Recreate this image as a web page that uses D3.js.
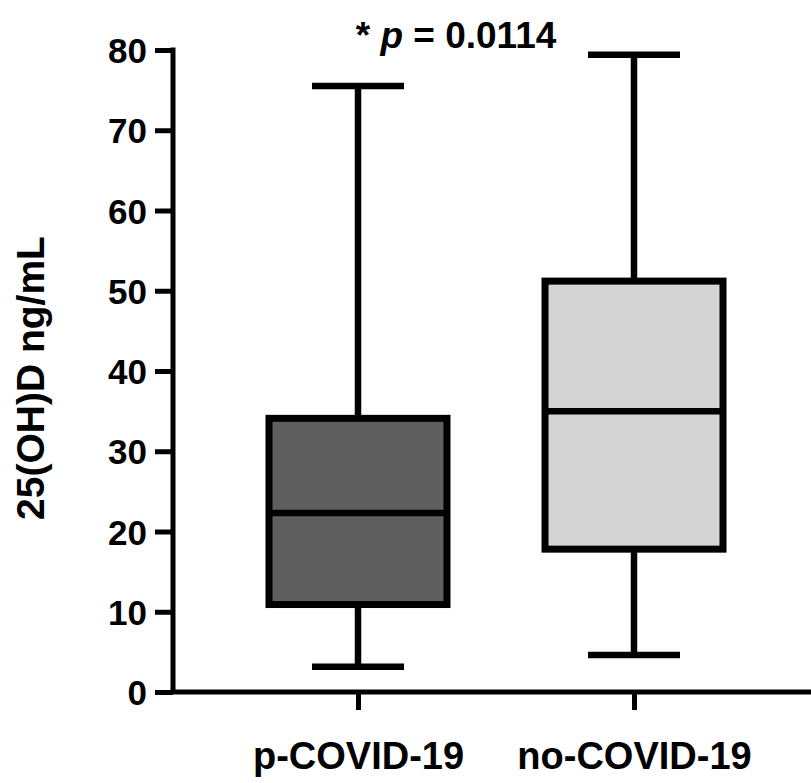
<!DOCTYPE html>
<html>
<head>
<meta charset="utf-8">
<script src="https://cdn.jsdelivr.net/npm/d3@7"></script>
<style>
  html, body { margin: 0; padding: 0; background: #fff; }
  svg { display: block; }
  text { font-family: Arial, "Liberation Sans", sans-serif; font-weight: bold; fill: #000; }
</style>
</head>
<body>
<svg id="chart" width="811" height="783"></svg>
<script>
// ---- data ----
const categories = ["p-COVID-19", "no-COVID-19"];
const minValues    = [3.15, 4.6];
const q1Values     = [10.9, 17.8];
const medianValues = [22.3, 35.0];
const q3Values     = [34.1, 51.2];
const maxValues    = [75.5, 79.4];
const fillColors   = ["#5f5f5f", "#d4d4d4"];
const yTicks = [0, 10, 20, 30, 40, 50, 60, 70, 80];
const yLabel = "25(OH)D ng/mL";
const pText = "0.0114";

const svg = d3.select("#chart");
const axisX = 173, yTop = 50, yBottom = 692;

const y = d3.scaleLinear().domain([0, 80]).range([yBottom, yTop]);
const x = d3.scalePoint().domain(categories).range([358, 634]);

const boxHalf = 89, capHalf = 46, lw = 6.5, axisW = 5;

// Y axis
const yAxis = d3.axisLeft(y).tickValues(yTicks).tickSize(18).tickPadding(8).tickFormat(d3.format("d"));
const gy = svg.append("g").attr("transform", `translate(${axisX},0)`).call(yAxis);
gy.select(".domain").attr("stroke", "#000").attr("stroke-width", axisW)
  .attr("d", `M0,${yTop - 2.5}V${yBottom}`);
gy.selectAll(".tick line").attr("stroke", "#000").attr("stroke-width", axisW);
gy.selectAll(".tick text").style("font-size", "35px").attr("dy", "0.36em");

// X axis
const xAxis = d3.axisBottom(x).tickSize(18).tickPadding(32);
const gx = svg.append("g").attr("transform", `translate(0,${yBottom})`).call(xAxis);
gx.select(".domain").attr("stroke", "#000").attr("stroke-width", axisW)
  .attr("d", `M${axisX - 2.5},0H811`);
gx.selectAll(".tick line").attr("stroke", "#000").attr("stroke-width", axisW);
gx.selectAll(".tick text").style("font-size", "38px").attr("dy", "0.71em");

// boxes
const data = categories.map((c, i) => ({
  c, min: minValues[i], q1: q1Values[i], med: medianValues[i], q3: q3Values[i], max: maxValues[i], fill: fillColors[i]
}));

const g = svg.append("g");
const box = g.selectAll("g.box").data(data).join("g").attr("class", "box");

// whiskers
box.append("line")
  .attr("x1", d => x(d.c)).attr("x2", d => x(d.c))
  .attr("y1", d => y(d.max)).attr("y2", d => y(d.q3))
  .attr("stroke", "#000").attr("stroke-width", lw);
box.append("line")
  .attr("x1", d => x(d.c)).attr("x2", d => x(d.c))
  .attr("y1", d => y(d.q1)).attr("y2", d => y(d.min))
  .attr("stroke", "#000").attr("stroke-width", lw);
// caps
box.append("line")
  .attr("x1", d => x(d.c) - capHalf).attr("x2", d => x(d.c) + capHalf)
  .attr("y1", d => y(d.max)).attr("y2", d => y(d.max))
  .attr("stroke", "#000").attr("stroke-width", lw);
box.append("line")
  .attr("x1", d => x(d.c) - capHalf).attr("x2", d => x(d.c) + capHalf)
  .attr("y1", d => y(d.min)).attr("y2", d => y(d.min))
  .attr("stroke", "#000").attr("stroke-width", lw);
// box
box.append("rect")
  .attr("x", d => x(d.c) - boxHalf).attr("width", boxHalf * 2)
  .attr("y", d => y(d.q3)).attr("height", d => y(d.q1) - y(d.q3))
  .attr("fill", d => d.fill).attr("stroke", "#000").attr("stroke-width", 7);
// median
box.append("line")
  .attr("x1", d => x(d.c) - boxHalf).attr("x2", d => x(d.c) + boxHalf)
  .attr("y1", d => y(d.med)).attr("y2", d => y(d.med))
  .attr("stroke", "#000").attr("stroke-width", lw);

// Y label
svg.append("text")
  .attr("transform", `translate(44,378) rotate(-90)`)
  .attr("text-anchor", "middle")
  .style("font-size", "39px")
  .text(yLabel);

// p-value annotation
const t = svg.append("text")
  .attr("x", 456).attr("y", 48)
  .attr("text-anchor", "middle")
  .style("font-size", "37px");
t.append("tspan").text("* ");
t.append("tspan").style("font-style", "italic").text("p");
t.append("tspan").text(" = " + pText);
</script>
</body>
</html>
